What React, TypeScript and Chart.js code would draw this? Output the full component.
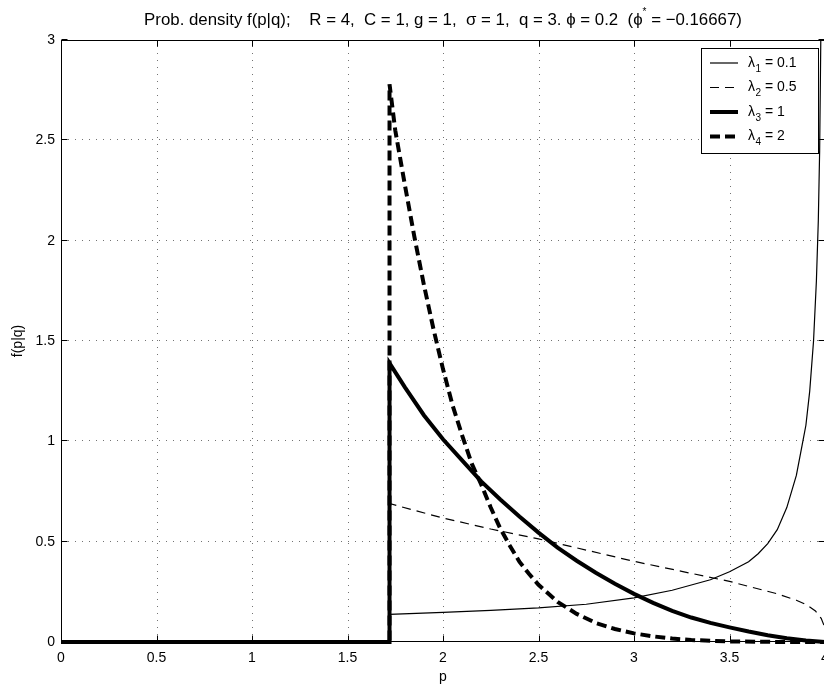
import React, { useEffect, useRef } from 'react';
import { Chart, registerables } from 'chart.js';

Chart.register(...registerables);

// ---------------- data ----------------
const lambdaValues = ['0.1', '0.5', '1', '2'];

// lambda_1 = 0.1 (thin solid)
const pLambda1 = [0, 1.72, 1.72, 2.0, 2.25, 2.5, 2.75, 3.0, 3.2, 3.4, 3.5, 3.6, 3.65, 3.7, 3.75, 3.8, 3.85, 3.88, 3.9, 3.92, 3.94, 3.955, 3.965, 3.972, 3.978];
const fLambda1 = [0, 0, 0.138, 0.148, 0.158, 0.17, 0.188, 0.22, 0.258, 0.31, 0.35, 0.4, 0.44, 0.49, 0.56, 0.67, 0.83, 0.98, 1.08, 1.25, 1.5, 1.8, 2.1, 2.45, 3.0];

// lambda_2 = 0.5 (thin dashed)
const pLambda2 = [0, 1.72, 1.72, 1.85, 2.0, 2.25, 2.5, 2.75, 3.0, 3.25, 3.5, 3.75, 3.85, 3.9, 3.95, 3.98, 4.0];
const fLambda2 = [0, 0, 0.69, 0.656, 0.618, 0.563, 0.514, 0.458, 0.402, 0.352, 0.302, 0.24, 0.208, 0.187, 0.155, 0.118, 0.07];

// lambda_3 = 1 (thick solid)
const pLambda3 = [0, 1.72, 1.72, 1.8, 1.9, 2.0, 2.1, 2.2, 2.3, 2.4, 2.5, 2.6, 2.7, 2.8, 2.9, 3.0, 3.1, 3.2, 3.3, 3.4, 3.5, 3.6, 3.7, 3.8, 3.9, 4.0];
const fLambda3 = [0, 0, 1.39, 1.27, 1.13, 1.01, 0.905, 0.8, 0.71, 0.625, 0.545, 0.47, 0.405, 0.345, 0.29, 0.24, 0.195, 0.155, 0.122, 0.095, 0.073, 0.052, 0.034, 0.019, 0.008, 0];

// lambda_4 = 2 (thick dashed)
const pLambda4 = [0, 1.72, 1.72, 1.75, 1.8, 1.85, 1.9, 1.95, 2.0, 2.05, 2.1, 2.15, 2.2, 2.25, 2.3, 2.35, 2.4, 2.45, 2.5, 2.6, 2.7, 2.8, 2.9, 3.0, 3.1, 3.2, 3.3, 3.4, 3.5, 3.75, 4.0];
const fLambda4 = [0, 0, 2.78, 2.55, 2.28, 2.02, 1.78, 1.56, 1.36, 1.18, 1.03, 0.89, 0.785, 0.67, 0.565, 0.48, 0.4, 0.34, 0.285, 0.2, 0.14, 0.095, 0.065, 0.043, 0.028, 0.017, 0.01, 0.006, 0.003, 0.0005, 0];

const xTickLabels = ['0', '0.5', '1', '1.5', '2', '2.5', '3', '3.5', '4'];
const yTickLabels = ['0', '0.5', '1', '1.5', '2', '2.5', '3'];

const titleBefore = 'Prob. density f(p|q);    R = 4,  C = 1, g = 1,  \u03C3 = 1,  q = 3. \u03D5 = 0.2  (\u03D5';
const titleSup = '*';
const titleAfter = ' = \u22120.16667)';
const xAxisLabel = 'p';
const yAxisLabel = 'f(p|q)';

// ---------------- styles ----------------
const FONT = '"Liberation Sans", Arial, Helvetica, sans-serif';
const THIN = 1.2;
const THICK = 4;
const TITLE_WIDTH = 600;
const styles = [
  { width: THIN, dash: [] as number[] },
  { width: THIN, dash: [9, 6] },
  { width: THICK, dash: [] as number[] },
  { width: THICK, dash: [10, 5] },
];

const toPoints = (ps: number[], fs: number[]) => ps.map((p, i) => ({ x: p, y: fs[i] }));

const framePlugin = {
  id: 'matlabFrame',
  beforeDatasetsDraw(chart: any) {
    const { ctx, chartArea: a, scales } = chart;
    const xs = scales.x;
    const ys = scales.y;
    ctx.save();
    ctx.strokeStyle = 'rgba(0,0,0,0.55)';
    ctx.lineWidth = 1;
    ctx.setLineDash([1, 6]);
    xs.ticks.forEach((t: any) => {
      const x = Math.round(xs.getPixelForValue(t.value)) + 0.5;
      if (x <= a.left + 2 || x >= a.right - 2) return;
      ctx.beginPath();
      ctx.moveTo(x, a.bottom);
      ctx.lineTo(x, a.top);
      ctx.stroke();
    });
    ys.ticks.forEach((t: any) => {
      const y = Math.round(ys.getPixelForValue(t.value)) - 0.5;
      if (y <= a.top + 2 || y >= a.bottom - 2) return;
      ctx.beginPath();
      ctx.moveTo(a.left, y);
      ctx.lineTo(a.right, y);
      ctx.stroke();
    });
    ctx.restore();
  },
  afterDatasetsDraw(chart: any) {
    const { ctx, chartArea: a, scales } = chart;
    const xs = scales.x;
    const ys = scales.y;
    const L = Math.round(a.left) + 0.5;
    const R = Math.round(a.right) - 0.5;
    const T = Math.round(a.top) + 0.5;
    const B = Math.round(a.bottom) - 0.5;
    ctx.save();
    ctx.setLineDash([]);
    ctx.strokeStyle = '#000';
    ctx.lineWidth = 1;
    ctx.strokeRect(L, T, R - L, B - T);
    const tl = 6;
    ctx.beginPath();
    xs.ticks.forEach((t: any) => {
      const x = Math.round(xs.getPixelForValue(t.value)) + 0.5;
      ctx.moveTo(x, B);
      ctx.lineTo(x, B - tl);
      ctx.moveTo(x, T);
      ctx.lineTo(x, T + tl);
    });
    ys.ticks.forEach((t: any) => {
      const y = Math.round(ys.getPixelForValue(t.value)) - 0.5;
      ctx.moveTo(L, y);
      ctx.lineTo(L + tl, y);
      ctx.moveTo(R, y);
      ctx.lineTo(R - tl, y);
    });
    ctx.stroke();

    // legend
    const bx = 701.5, by = 48.5, bw = 117, bh = 105;
    ctx.fillStyle = '#fff';
    ctx.fillRect(bx, by, bw, bh);
    ctx.strokeRect(bx, by, bw, bh);
    ctx.fillStyle = '#000';
    ctx.textBaseline = 'middle';
    ctx.textAlign = 'left';
    chart.data.datasets.forEach((ds: any, i: number) => {
      const y = 63 + i * 24.5;
      ctx.save();
      ctx.lineWidth = ds.borderWidth;
      ctx.setLineDash(ds.borderDash || []);
      ctx.lineCap = 'butt';
      ctx.beginPath();
      ctx.moveTo(710, y);
      ctx.lineTo(738, y);
      ctx.stroke();
      ctx.restore();
      let x = 748;
      ctx.font = `14px ${FONT}`;
      ctx.fillText('\u03BB', x, y);
      x += ctx.measureText('\u03BB').width + 0.5;
      ctx.font = `10px ${FONT}`;
      const sub = String(i + 1);
      ctx.fillText(sub, x, y + 6);
      x += ctx.measureText(sub).width;
      ctx.font = `14px ${FONT}`;
      ctx.fillText(' = ' + lambdaValues[i], x, y);
    });

    // title (font size fitted so the title spans TITLE_WIDTH px)
    ctx.font = `16px ${FONT}`;
    const probe = ctx.measureText(titleBefore + titleAfter).width;
    const TS = Math.min(18, Math.max(13, (16 * (TITLE_WIDTH - 6)) / probe));
    const SS = Math.round(TS * 0.62);
    ctx.font = `${TS}px ${FONT}`;
    const w1 = ctx.measureText(titleBefore).width;
    const w3 = ctx.measureText(titleAfter).width;
    ctx.font = `${SS}px ${FONT}`;
    const w2 = ctx.measureText(titleSup).width;
    const total = w1 + w2 + w3;
    const cx = (a.left + a.right) / 2;
    let tx = cx - total / 2;
    const ty = 20;
    ctx.font = `${TS}px ${FONT}`;
    ctx.fillText(titleBefore, tx, ty);
    tx += w1;
    ctx.font = `${SS}px ${FONT}`;
    ctx.fillText(titleSup, tx, ty - 8);
    tx += w2;
    ctx.font = `${TS}px ${FONT}`;
    ctx.fillText(titleAfter, tx, ty);

    // axis labels
    ctx.font = `14px ${FONT}`;
    ctx.textAlign = 'center';
    ctx.fillText(xAxisLabel, cx, 677);
    ctx.save();
    ctx.translate(18, (a.top + a.bottom) / 2);
    ctx.rotate(-Math.PI / 2);
    ctx.fillText(yAxisLabel, 0, 0);
    ctx.restore();
    ctx.restore();
  },
};

export default function App() {
  const canvasRef = useRef<HTMLCanvasElement | null>(null);

  useEffect(() => {
    const canvas = canvasRef.current;
    if (!canvas) return;
    const series = [
      toPoints(pLambda1, fLambda1),
      toPoints(pLambda2, fLambda2),
      toPoints(pLambda3, fLambda3),
      toPoints(pLambda4, fLambda4),
    ];
    const chart = new Chart(canvas, {
      type: 'line',
      data: {
        datasets: series.map((pts, i) => ({
          label: 'lambda_' + (i + 1) + ' = ' + lambdaValues[i],
          data: pts,
          borderColor: '#000',
          backgroundColor: '#000',
          borderWidth: styles[i].width,
          borderDash: styles[i].dash,
          borderCapStyle: 'butt',
          borderJoinStyle: 'miter',
          pointRadius: 0,
          pointHoverRadius: 0,
          tension: 0,
          fill: false,
          clip: { left: 0, top: 0, right: 0, bottom: 4 },
        })) as any,
      },
      options: {
        animation: false,
        responsive: false,
        devicePixelRatio: 1,
        events: [],
        layout: { padding: { top: 40, left: 0, right: 5, bottom: 0 } },
        plugins: {
          legend: { display: false },
          title: { display: false },
          tooltip: { enabled: false },
        },
        scales: {
          x: {
            type: 'linear',
            min: 0,
            max: 4,
            grid: { display: false, drawTicks: false },
            border: { display: false },
            ticks: {
              stepSize: 0.5,
              autoSkip: false,
              maxRotation: 0,
              padding: 8,
              color: '#000',
              font: { family: FONT, size: 14 },
              callback: (_v: any, i: number) => xTickLabels[i] ?? '',
            },
            afterFit: (s: any) => {
              s.height = 48;
              s.paddingLeft = 0;
              s.paddingRight = 0;
            },
          },
          y: {
            type: 'linear',
            min: 0,
            max: 3,
            grid: { display: false, drawTicks: false },
            border: { display: false },
            ticks: {
              stepSize: 0.5,
              autoSkip: false,
              padding: 6,
              color: '#000',
              font: { family: FONT, size: 14 },
              callback: (_v: any, i: number) => yTickLabels[i] ?? '',
            },
            afterFit: (s: any) => {
              s.width = 61;
              s.paddingTop = 0;
              s.paddingBottom = 0;
            },
          },
        },
      } as any,
      plugins: [framePlugin],
    });
    return () => chart.destroy();
  }, []);

  return (
    <div
      style={{
        position: 'fixed',
        left: 0,
        top: 0,
        width: 824,
        height: 690,
        overflow: 'hidden',
        background: '#fff',
      }}
    >
      <canvas ref={canvasRef} width={830} height={690} style={{ display: 'block' }} />
    </div>
  );
}
